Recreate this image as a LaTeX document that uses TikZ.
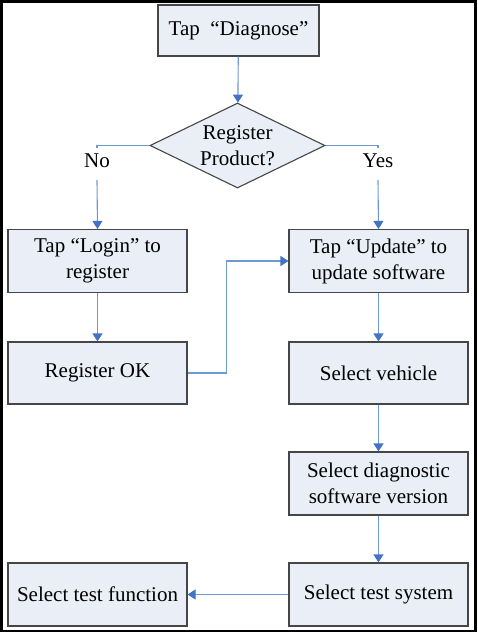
\documentclass[tikz,border=0pt]{standalone}
\usepackage{fontspec}
\setmainfont{Liberation Serif}
\usetikzlibrary{shapes.geometric,arrows.meta}
\definecolor{boxfill}{RGB}{233,238,247}
\definecolor{boxline}{RGB}{70,70,70}
\definecolor{conn}{RGB}{110,152,210}
\definecolor{tipblue}{RGB}{68,114,196}
\begin{document}
\begin{tikzpicture}[x=1pt,y=-1pt,
  txt/.style={font=\fontsize{21}{26}\selectfont},
  box/.style={txt,draw=boxline,line width=1.1pt,fill=boxfill,align=center,inner sep=0pt,
    minimum width=179pt,minimum height=63pt},
  decision/.style={txt,diamond,draw=boxline,line width=1.1pt,fill=boxfill,align=center,inner sep=0pt,
    aspect=2.06,minimum width=175pt,minimum height=85pt},
  lbl/.style={txt,inner sep=0pt,minimum height=32pt,text height=13.5pt,text depth=6pt},
  ln/.style={draw=conn,line width=1.1pt},
  arr/.style={ln,-{Triangle[length=8pt,width=10pt,color=tipblue]}}]
\useasboundingbox (0,0) rectangle (478,633);
\draw[line width=2.5pt] (1.25,1.25) rectangle (475.5,631);

\node[box,minimum width=161pt,minimum height=51pt] (diag) at (238.5,30.5) {Tap\ \ “Diagnose”};
\node[decision] (dia) at (237.5,145.5) {Register\\Product?};
\node[box] (login) at (97.5,261) {Tap “Login” to\\register};
\node[box] (update) at (378.5,261) {Tap “Update” to\\update software};
\node[box,minimum height=62pt] (regok) at (97.5,373) {Register OK};
\node[box,minimum height=62pt] (veh) at (378.5,373) {Select vehicle};
\node[box] (ver) at (378.5,483.5) {Select diagnostic\\software version};
\node[box] (sys) at (378.5,594.5) {Select test system};
\node[box] (func) at (97.5,594.5) {Select test function};

\node[lbl] (no) at (97,164) {No};
\node[lbl] (yes) at (378,164) {Yes};

\draw[arr] (diag) -- (dia);
\draw[ln] (dia.west) -| (no.north);
\draw[arr] (no.south) -- (login.north);
\draw[ln] (dia.east) -| (yes.north);
\draw[arr] (yes.south) -- (update.north);
\draw[arr] (login) -- (regok);
\draw[arr] (regok.east) -- ++(39,0) |- (update.west);
\draw[arr] (update) -- (veh);
\draw[arr] (veh) -- (ver);
\draw[arr] (ver) -- (sys);
\draw[arr] (sys) -- (func);
\end{tikzpicture}
\end{document}
